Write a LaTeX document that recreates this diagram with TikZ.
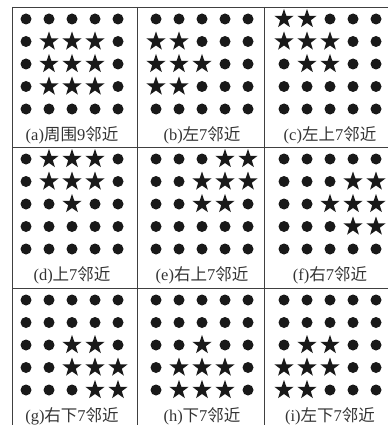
\documentclass[tikz,border=0pt]{standalone}
\usepackage{fontspec}
\setmainfont{Liberation Serif}
\newfontfamily\cjk{Noto Sans CJK SC}
\usetikzlibrary{shapes.geometric}

\begin{document}
\begin{tikzpicture}[x=1pt,y=-1pt,
 dot/.style={circle,fill=black!90,inner sep=0pt,minimum size=11pt},
 st/.style={star,star points=5,star point ratio=2.5,fill=black!90,inner sep=0pt,minimum size=20pt},
 lbl/.style={font=\fontsize{16.5}{18}\selectfont,text=black!80},
 rule/.style={draw=black!75,line width=0.6pt}]
\useasboundingbox (0,0) rectangle (388,425);
% frame: top edge, row dividers and column dividers
\foreach \y in {7,147,288} \draw[rule] (12,\y) -- (388,\y);
\foreach \x in {12,137,264} \draw[rule] (\x,7) -- (\x,425);
% panels: label/centre x/top y/prefix/number/stars (rows from the top)
\foreach \lab/\cx/\ty/\pre/\n/\pat in {
 a/72/7/周围/9/{{0,0,0,0,0},{0,1,1,1,0},{0,1,1,1,0},{0,1,1,1,0},{0,0,0,0,0}},
 b/202/7/左/7/{{0,0,0,0,0},{1,1,0,0,0},{1,1,1,0,0},{1,1,0,0,0},{0,0,0,0,0}},
 c/330/7/左上/7/{{1,1,0,0,0},{1,1,1,0,0},{0,1,1,0,0},{0,0,0,0,0},{0,0,0,0,0}},
 d/72/147/上/7/{{0,1,1,1,0},{0,1,1,1,0},{0,0,1,0,0},{0,0,0,0,0},{0,0,0,0,0}},
 e/202/147/右上/7/{{0,0,0,1,1},{0,0,1,1,1},{0,0,1,1,0},{0,0,0,0,0},{0,0,0,0,0}},
 f/330/147/右/7/{{0,0,0,0,0},{0,0,0,1,1},{0,0,1,1,1},{0,0,0,1,1},{0,0,0,0,0}},
 g/72/288/右下/7/{{0,0,0,0,0},{0,0,0,0,0},{0,0,1,1,0},{0,0,1,1,1},{0,0,0,1,1}},
 h/202/288/下/7/{{0,0,0,0,0},{0,0,0,0,0},{0,0,1,0,0},{0,1,1,1,0},{0,1,1,1,0}},
 i/330/288/左下/7/{{0,0,0,0,0},{0,0,0,0,0},{0,1,1,0,0},{1,1,1,0,0},{1,1,0,0,0}}}{
  \foreach \row [count=\r] in \pat {
    \foreach \v [count=\c] in \row {
      \ifnum\v=1 \node[st] (\lab-\r-\c) at (\cx+23*\c-69,\ty+22.5*\r-10.5) {};
      \else \node[dot] (\lab-\r-\c) at (\cx+23*\c-69,\ty+22.5*\r-10.5) {};\fi
    }
  }
  \node[lbl] (lbl-\lab) at (\cx,\ty+128) {(\lab){\cjk\pre}\n{\cjk 邻近}};
}
\end{tikzpicture}
\end{document}
